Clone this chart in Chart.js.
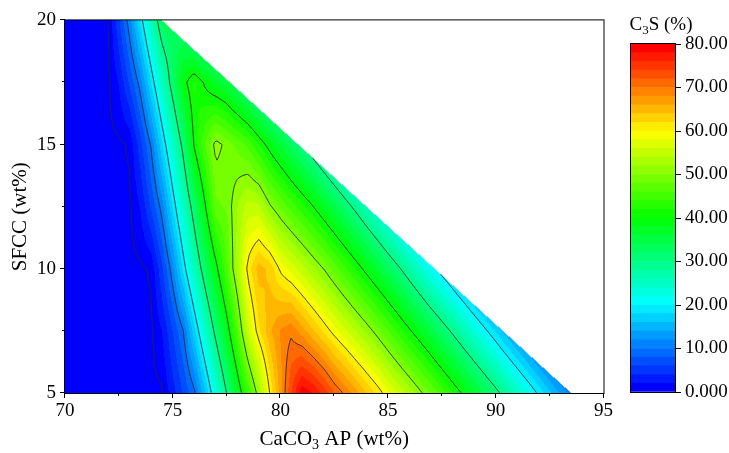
<!DOCTYPE html>
<html>
<head>
<meta charset="utf-8">
<script src="https://cdn.jsdelivr.net/npm/chart.js@4.4.1/dist/chart.umd.min.js"></script>
<style>
  html, body { margin: 0; padding: 0; background: #fff; }
  #wrap { position: relative; width: 729px; height: 453px; }
  #main { position: absolute; left: 0; top: 0; }
  #bar { position: absolute; left: 612px; top: 0; }
</style>
</head>
<body>
<div id="wrap">
  <canvas id="main" width="620" height="453"></canvas>
  <canvas id="bar" width="117" height="453"></canvas>
</div>
<script>
// grid columns: CaCO3 AP (wt%) in 0.5 steps
const caco3Grid = Array.from({ length: 48 }, (_, i) => 70 + i * 0.5);
// grid rows: SFCC (wt%)
const sfccRows = [5, 7.5, 10, 12.5, 15, 17.5, 20];

// C3S (%) read along each SFCC row, from CaCO3 = 70 up to the edge of the data
const c3sSfcc5 = [0, 0, 0, 0, 0, 0, 0, 0, 0, 0,
  3.1, 6.3, 9.4, 15.7, 22.9, 30, 37.1, 44.3, 51.7, 60,
  67, 74, 79.5, 78, 75.5, 72, 69.5, 66.8, 64.1, 61.5,
  58.4, 55.8, 53.2, 50.5, 47.8, 45, 42.2, 39.4, 36.7, 33.9,
  31.1, 28.2, 25.3, 22.4, 19.4, 16.5, 13.7, 11];
const c3sSfcc7 = [0, 0, 0, 0, 0, 0, 0, 0, 0,
  2, 6, 10, 17.1, 24.3, 31.3, 37.9, 46, 55.5, 61.5,
  65.5, 68.2, 69.5, 67, 64.4, 61.7, 59, 56.5, 54, 51.5,
  48.8, 46, 43.2, 40.4, 37.7, 34.9, 32.1, 29.3, 26.4, 23.5,
  20.6, 17.7];
const c3sSfcc10 = [0, 0, 0, 0, 0, 0, 0, 0,
  0.5, 5.5, 11.4, 18.6, 25.7, 32.5, 38.8, 45.7, 53, 61,
  65, 63.5, 59.5, 57.3, 54.9, 52.4, 50, 47.2, 44.4, 41.7,
  38.9, 36.1, 33.3, 30.5, 27.5, 24.4, 21.3];
const c3sSfcc12 = [0, 0, 0, 0, 0, 0, 0,
  2.1, 6.3, 10.9, 18.1, 25.1, 32.2, 39.6, 47.5, 48.3, 52,
  55, 54.5, 50.5, 47.8, 45.2, 42.7, 40.2, 37.4, 34.6, 31.8,
  28.9, 25.9];
const c3sSfcc15 = [0, 0, 0, 0, 0, 0,
  0.5, 5.2, 10.3, 17.6, 24.5, 31.4, 40.5, 46, 51, 49.3,
  47.5, 45.5, 42, 38.7, 35.8, 32.9];
const c3sSfcc17 = [0, 0, 0, 0, 0,
  2.1, 6.4, 11, 18.1, 25.1, 32, 38.9, 42.5, 39.5, 36.9, 35.3];
const c3sSfcc20 = [0, 0, 0, 0, 0, 5.6, 11.4, 18.6, 26, 33];
const c3sRows = [c3sSfcc5, c3sSfcc7, c3sSfcc10, c3sSfcc12, c3sSfcc15, c3sSfcc17, c3sSfcc20];

// upper edge of the data (per SFCC row) and C3S on it
const edgeCaco3 = [93.5, 90.33, 87.17, 84.0, 80.83, 77.67, 74.5];
const edgeC3s = [11, 15.7, 20.4, 25.9, 31, 34, 33];

const contourLevels = [0.3, 10, 20, 30, 40, 50, 60, 70];
const xTicks = [70, 75, 80, 85, 90, 95];
const yTicks = [5, 10, 15, 20];
const cbTicks = [0, 10, 20, 30, 40, 50, 60, 70, 80];
const cbMin = 0, cbMax = 80, cbStep = 2;

Chart.defaults.font.family = "'Liberation Serif', 'Times New Roman', serif";
Chart.defaults.color = "#000";

const nBands = (cbMax - cbMin) / cbStep;

function rainbow(t) {
  if (t < 0.25) return [0, Math.round(255 * t / 0.25), 255];
  if (t < 0.5) return [0, 255, Math.round(255 * (1 - (t - 0.25) / 0.25))];
  if (t < 0.75) return [Math.round(255 * (t - 0.5) / 0.25), 255, 0];
  return [255, Math.round(255 * (1 - (t - 0.75) / 0.25)), 0];
}
const palette = Array.from({ length: nBands }, (_, i) => rainbow(i / (nBands - 1)));

function lerp(a, b, t) { return a + (b - a) * t; }

function edgeXAt(y) {
  for (let r = 0; r < sfccRows.length - 1; r++) {
    if (y <= sfccRows[r + 1] || r === sfccRows.length - 2) {
      const t = (y - sfccRows[r]) / (sfccRows[r + 1] - sfccRows[r]);
      return lerp(edgeCaco3[r], edgeCaco3[r + 1], t);
    }
  }
}

function rowValue(r, x) {
  const vals = c3sRows[r];
  const n = vals.length;
  const lastX = caco3Grid[n - 1];
  if (x <= caco3Grid[0]) return vals[0];
  if (x <= lastX) {
    let i = 0;
    while (i < n - 2 && caco3Grid[i + 1] < x) i++;
    const t = (x - caco3Grid[i]) / (caco3Grid[i + 1] - caco3Grid[i]);
    return lerp(vals[i], vals[i + 1], t);
  }
  const ex = edgeCaco3[r];
  if (ex - lastX < 1e-6) return edgeC3s[r];
  const t = Math.min((x - lastX) / (ex - lastX), 1);
  return lerp(vals[n - 1], edgeC3s[r], t);
}

function field(x, y) {
  y = Math.max(sfccRows[0], Math.min(sfccRows[sfccRows.length - 1], y));
  x = Math.max(caco3Grid[0], Math.min(x, edgeXAt(y)));
  let r = 0;
  while (r < sfccRows.length - 2 && y > sfccRows[r + 1]) r++;
  const s0 = sfccRows[r], s1 = sfccRows[r + 1];
  const ty = (y - s0) / (s1 - s0);
  if (x <= edgeCaco3[r + 1]) return lerp(rowValue(r, x), rowValue(r + 1, x), ty);
  // strip between the upper row's end and the sloping edge
  const ye = s0 + (edgeCaco3[r] - x) / (edgeCaco3[r] - edgeCaco3[r + 1]) * (s1 - s0);
  const ve = lerp(edgeC3s[r], edgeC3s[r + 1], (ye - s0) / (s1 - s0));
  const v0 = rowValue(r, x);
  const t = ye > s0 ? Math.min((y - s0) / (ye - s0), 1) : 1;
  return lerp(v0, ve, t);
}

function bandOf(v) {
  return Math.max(0, Math.min(nBands - 1, Math.floor((v - cbMin) / cbStep)));
}

const contourPlugin = {
  id: "contour",
  beforeDatasetsDraw(chart) {
    const { ctx, chartArea: a } = chart;
    const xs = chart.scales.x, ys = chart.scales.y;
    const w = Math.round(a.right - a.left), h = Math.round(a.bottom - a.top);

    // filled bands
    const off = document.createElement("canvas");
    off.width = w; off.height = h;
    const octx = off.getContext("2d");
    const img = octx.createImageData(w, h);
    const xv = [], yv = [];
    for (let i = 0; i < w; i++) xv.push(xs.getValueForPixel(a.left + i + 0.5));
    for (let j = 0; j < h; j++) yv.push(ys.getValueForPixel(a.top + j + 0.5));
    for (let j = 0; j < h; j++) {
      const xe = edgeXAt(yv[j]);
      for (let i = 0; i < w; i++) {
        if (xv[i] > xe) continue;
        const c = palette[bandOf(field(xv[i], yv[j]))];
        const k = (j * w + i) * 4;
        img.data[k] = c[0]; img.data[k + 1] = c[1]; img.data[k + 2] = c[2]; img.data[k + 3] = 255;
      }
    }
    octx.putImageData(img, 0, 0);
    ctx.drawImage(off, a.left, a.top);

    // contour lines
    ctx.save();
    ctx.beginPath();
    ctx.moveTo(xs.getPixelForValue(caco3Grid[0]), ys.getPixelForValue(sfccRows[0]));
    edgeCaco3.forEach((ex, r) => ctx.lineTo(xs.getPixelForValue(ex), ys.getPixelForValue(sfccRows[r])));
    ctx.lineTo(xs.getPixelForValue(caco3Grid[0]), ys.getPixelForValue(sfccRows[sfccRows.length - 1]));
    ctx.closePath();
    ctx.clip();

    const step = 2;
    const nx = Math.ceil(w / step) + 1, ny = Math.ceil(h / step) + 1;
    const gv = new Float32Array(nx * ny);
    for (let j = 0; j < ny; j++) {
      const y = ys.getValueForPixel(a.top + j * step);
      for (let i = 0; i < nx; i++) gv[j * nx + i] = field(xs.getValueForPixel(a.left + i * step), y);
    }
    ctx.strokeStyle = "rgba(40,40,40,0.9)";
    ctx.lineWidth = 1;
    contourLevels.forEach(L => {
      ctx.beginPath();
      for (let j = 0; j < ny - 1; j++) {
        for (let i = 0; i < nx - 1; i++) {
          const v00 = gv[j * nx + i], v10 = gv[j * nx + i + 1];
          const v11 = gv[(j + 1) * nx + i + 1], v01 = gv[(j + 1) * nx + i];
          const x0 = a.left + i * step, y0 = a.top + j * step;
          const pts = [];
          if ((v00 < L) !== (v10 < L)) pts.push([x0 + step * (L - v00) / (v10 - v00), y0]);
          if ((v10 < L) !== (v11 < L)) pts.push([x0 + step, y0 + step * (L - v10) / (v11 - v10)]);
          if ((v11 < L) !== (v01 < L)) pts.push([x0 + step - step * (L - v11) / (v01 - v11), y0 + step]);
          if ((v01 < L) !== (v00 < L)) pts.push([x0, y0 + step - step * (L - v01) / (v00 - v01)]);
          if (pts.length >= 2) { ctx.moveTo(pts[0][0], pts[0][1]); ctx.lineTo(pts[1][0], pts[1][1]); }
          if (pts.length === 4) { ctx.moveTo(pts[2][0], pts[2][1]); ctx.lineTo(pts[3][0], pts[3][1]); }
        }
      }
      ctx.stroke();
    });
    ctx.restore();
  },
  afterDraw(chart) {
    const { ctx, chartArea: a } = chart;
    const xs = chart.scales.x, ys = chart.scales.y;
    ctx.save();
    ctx.strokeStyle = "#000";
    ctx.lineWidth = 1;
    ctx.strokeRect(a.left - 0.5, a.top - 0.5, a.right - a.left + 1, a.bottom - a.top + 1);

    // major and minor ticks
    ctx.beginPath();
    xTicks.forEach((v, k) => {
      const p = Math.round(xs.getPixelForValue(v)) - 0.5;
      ctx.moveTo(p, a.bottom); ctx.lineTo(p, a.bottom + 5);
      if (k < xTicks.length - 1) {
        const m = Math.round(xs.getPixelForValue((v + xTicks[k + 1]) / 2)) - 0.5;
        ctx.moveTo(m, a.bottom); ctx.lineTo(m, a.bottom + 3);
      }
    });
    yTicks.forEach((v, k) => {
      const p = Math.round(ys.getPixelForValue(v)) - 0.5;
      ctx.moveTo(a.left, p); ctx.lineTo(a.left - 5, p);
      if (k < yTicks.length - 1) {
        const m = Math.round(ys.getPixelForValue((v + yTicks[k + 1]) / 2)) - 0.5;
        ctx.moveTo(a.left, m); ctx.lineTo(a.left - 3, m);
      }
    });
    ctx.stroke();

    // axis titles
    ctx.fillStyle = "#000";
    ctx.textBaseline = "alphabetic";
    ctx.textAlign = "left";
    const big = "21px 'Liberation Serif', serif", small = "14px 'Liberation Serif', serif";
    ctx.font = big;
    const w1 = ctx.measureText("CaCO").width, w3 = ctx.measureText(" AP (wt%)").width;
    ctx.font = small;
    const w2 = ctx.measureText("3").width;
    let tx = (a.left + a.right) / 2 - (w1 + w2 + w3) / 2;
    const ty = 445;
    ctx.font = big; ctx.fillText("CaCO", tx, ty); tx += w1;
    ctx.font = small; ctx.fillText("3", tx, ty + 4); tx += w2;
    ctx.font = big; ctx.fillText(" AP (wt%)", tx, ty);

    ctx.translate(20, (a.top + a.bottom) / 2 + 10);
    ctx.rotate(-Math.PI / 2);
    ctx.textAlign = "center";
    ctx.textBaseline = "middle";
    ctx.font = big;
    ctx.fillText("SFCC (wt%)", 0, 0);
    ctx.restore();
  }
};

new Chart(document.getElementById("main"), {
  type: "scatter",
  data: { datasets: [] },
  options: {
    responsive: false,
    animation: false,
    devicePixelRatio: 1,
    layout: { padding: { top: 17, right: 10, left: 0, bottom: 0 } },
    plugins: { legend: { display: false }, tooltip: { enabled: false } },
    scales: {
      x: {
        type: "linear", min: 70, max: 95,
        grid: { display: false, drawTicks: false },
        border: { display: false },
        ticks: { padding: 7, autoSkip: false, maxRotation: 0, font: { size: 19 } },
        afterBuildTicks: s => { s.ticks = xTicks.map(v => ({ value: v })); },
        afterFit: s => { s.height = 60; }
      },
      y: {
        type: "linear", min: 5, max: 20,
        grid: { display: false, drawTicks: false },
        border: { display: false },
        ticks: { padding: 9, autoSkip: false, font: { size: 19 } },
        afterBuildTicks: s => { s.ticks = yTicks.map(v => ({ value: v })); },
        afterFit: s => { s.width = 65; }
      }
    }
  },
  plugins: [contourPlugin]
});

const colorbarPlugin = {
  id: "colorbarFrame",
  afterDraw(chart) {
    const { ctx, chartArea: a } = chart;
    ctx.save();
    ctx.strokeStyle = "#000";
    ctx.lineWidth = 1;
    ctx.strokeRect(a.left - 0.5, a.top - 0.5, a.right - a.left + 1, a.bottom - a.top + 1);
    ctx.fillStyle = "#000";
    ctx.textBaseline = "alphabetic";
    ctx.textAlign = "left";
    const big = "19px 'Liberation Serif', serif", small = "13px 'Liberation Serif', serif";
    ctx.font = big;
    const w1 = ctx.measureText("C").width, w3 = ctx.measureText("S (%)").width;
    ctx.font = small;
    const w2 = ctx.measureText("3").width;
    let tx = (a.left + a.right) / 2 - (w1 + w2 + w3) / 2 + 8;
    const ty = 30;
    ctx.font = big; ctx.fillText("C", tx, ty); tx += w1;
    ctx.font = small; ctx.fillText("3", tx, ty + 4); tx += w2;
    ctx.font = big; ctx.fillText("S (%)", tx, ty);
    ctx.restore();
  }
};

new Chart(document.getElementById("bar"), {
  type: "bar",
  data: {
    labels: [""],
    datasets: palette.map(c => ({
      data: [cbStep],
      backgroundColor: `rgb(${c[0]},${c[1]},${c[2]})`,
      borderWidth: 0,
      barPercentage: 1,
      categoryPercentage: 1
    }))
  },
  options: {
    responsive: false,
    animation: false,
    devicePixelRatio: 1,
    layout: { padding: { left: 19, top: 44, bottom: 61, right: 0 } },
    plugins: { legend: { display: false }, tooltip: { enabled: false } },
    scales: {
      x: { display: false, stacked: true },
      y: {
        position: "right", stacked: true, min: cbMin, max: cbMax,
        grid: { drawOnChartArea: false, drawTicks: true, tickLength: 6, color: "#000" },
        border: { display: true, color: "#000" },
        ticks: {
          padding: 4, autoSkip: false, font: { size: 19 },
          callback: v => (v === 0 ? "0.000" : v.toFixed(2))
        },
        afterBuildTicks: s => { s.ticks = cbTicks.map(v => ({ value: v })); },
        afterFit: s => { s.width = 54; }
      }
    }
  },
  plugins: [colorbarPlugin]
});
</script>
</body>
</html>
